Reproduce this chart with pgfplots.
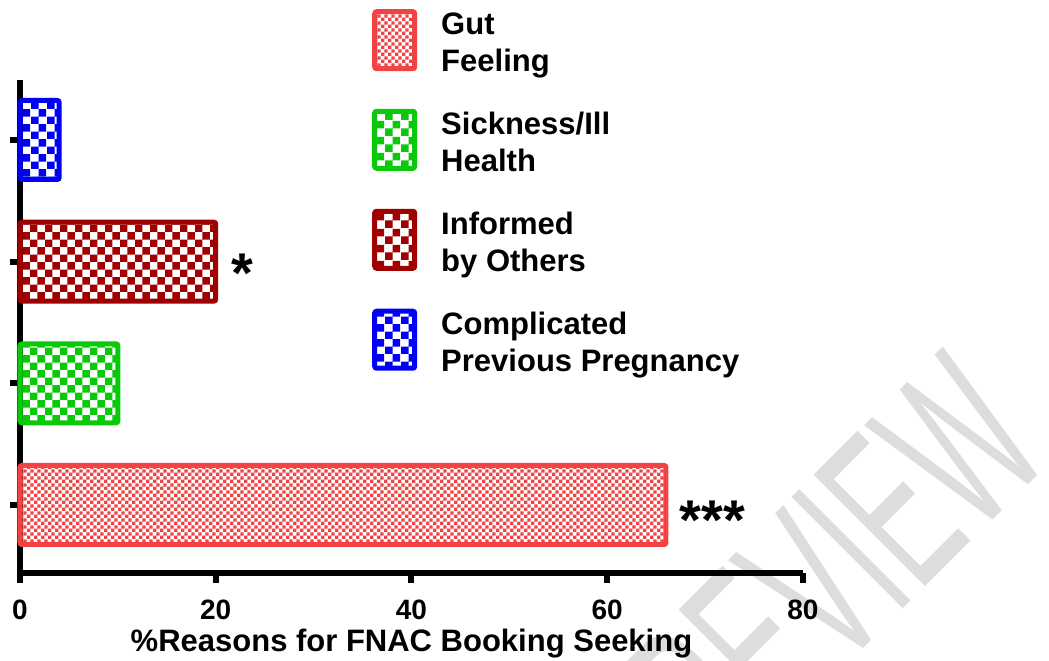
\documentclass[border=0pt]{standalone}
\usepackage{fontspec}
\setmainfont{Liberation Sans}
\usepackage{graphicx}
\usepackage{pgfplots}
\pgfplotsset{compat=1.18}
\usetikzlibrary{patterns}

\definecolor{gutred}{RGB}{242,66,66}
\definecolor{sickgreen}{RGB}{10,200,10}
\definecolor{infred}{RGB}{160,0,0}
\definecolor{compblue}{RGB}{0,0,245}
\definecolor{wm}{RGB}{221,221,221}

% checkerboards: fine one for the big bar, coarse one for the others
\pgfdeclarepatternformonly{smallcheck}{\pgfpointorigin}{\pgfqpoint{6.8bp}{6.8bp}}{\pgfqpoint{6.8bp}{6.8bp}}{%
  \pgfpathrectangle{\pgfpointorigin}{\pgfqpoint{3.4bp}{3.4bp}}%
  \pgfpathrectangle{\pgfqpoint{3.4bp}{3.4bp}}{\pgfqpoint{3.4bp}{3.4bp}}%
  \pgfusepath{fill}}
\pgfdeclarepatternformonly{bigcheck}{\pgfpointorigin}{\pgfqpoint{15.4bp}{15.4bp}}{\pgfqpoint{15.4bp}{15.4bp}}{%
  \pgfpathrectangle{\pgfpointorigin}{\pgfqpoint{7.7bp}{7.7bp}}%
  \pgfpathrectangle{\pgfqpoint{7.7bp}{7.7bp}}{\pgfqpoint{7.7bp}{7.7bp}}%
  \pgfusepath{fill}}

\begin{document}
\begin{tikzpicture}
\useasboundingbox (0,0) rectangle (1049bp,661bp);
% watermark, narrow and turned
\node[overlay, anchor=base west, rotate=45, inner sep=0, text=wm,
      font=\fontsize{229bp}{229bp}\selectfont] at (666bp,-185bp) {\scalebox{0.52}[1]{PREVIEW}};

\begin{axis}[
    at={(20bp,88bp)}, anchor=south west,
    scale only axis, width=783bp, height=493bp,
    xbar, bar width=79bp, bar shift=0pt,
    xmin=0, xmax=80, ymin=0.441, ymax=4.493,
    xtick={0,20,...,80},
    ytick={1,2,3,4}, yticklabels={},
    axis x line=bottom, axis y line=left,
    axis line style={-, line width=6bp, black},
    tick style={line width=6bp, black},
    major tick length=10bp, tick align=outside,
    /pgf/number format/assume math mode=true,
    ticklabel style={font=\fontsize{28bp}{32bp}\selectfont\bfseries},
    xticklabel style={anchor=north, inner sep=0pt, yshift=-17bp},
    xlabel={\%Reasons for FNAC Booking Seeking},
    xlabel style={at={(axis description cs:0.5,-0.1583)}, anchor=base, inner sep=0pt,
        font=\fontsize{31bp}{36bp}\selectfont\bfseries},
    clip=false,
    legend cell align=left,
    legend image code/.code={\draw[#1] (0bp,-26bp) rectangle (40bp,31bp);},
    legend style={at={(0.4496,1.144)}, anchor=north west, draw=none, fill=none,
        inner sep=0pt, row sep=36bp, column sep=24bp,
        font=\fontsize{31bp}{37bp}\selectfont\bfseries,
        nodes={align=left, inner sep=0pt}},
]
\addplot[draw=gutred, line width=5bp, rounded corners=2bp, pattern=smallcheck, pattern color=gutred]
    coordinates {(66,1)};
\addlegendentry{Gut\\Feeling}
\addplot[draw=sickgreen, line width=5bp, rounded corners=2bp, pattern=bigcheck, pattern color=sickgreen]
    coordinates {(10,2)};
\addlegendentry{Sickness/Ill\\Health}
\addplot[draw=infred, line width=5bp, rounded corners=2bp, pattern=bigcheck, pattern color=infred]
    coordinates {(20,3)};
\addlegendentry{Informed\\by Others}
\addplot[draw=compblue, line width=5bp, rounded corners=2bp, pattern=bigcheck, pattern color=compblue]
    coordinates {(4,4)};
\addlegendentry{Complicated\\Previous Pregnancy}

\node[anchor=base west, inner sep=0pt, font=\fontsize{56bp}{56bp}\selectfont\bfseries] at (axis cs:21.6,2.75) {*};
\node[anchor=base west, inner sep=0pt, font=\fontsize{56bp}{56bp}\selectfont\bfseries] at (axis cs:67.4,0.72) {***};
\end{axis}
\end{tikzpicture}
\end{document}
